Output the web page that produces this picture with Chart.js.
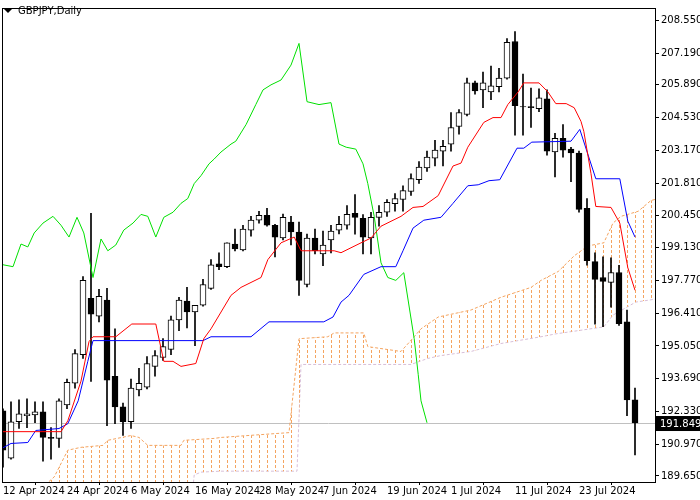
<!DOCTYPE html>
<html><head><meta charset="utf-8">
<script src="https://cdn.jsdelivr.net/npm/chart.js@4"></script>
<style>html,body{margin:0;padding:0;background:#fff}canvas{display:block}</style>
</head><body><canvas id="c" width="700" height="500"></canvas>
<script>
const title = "GBPJPY,Daily";
const dateLabels = ["12 Apr 2024","24 Apr 2024","6 May 2024","16 May 2024","28 May 2024","7 Jun 2024","19 Jun 2024","1 Jul 2024","11 Jul 2024","23 Jul 2024"];
const dateLabelIdx = [0,8,16,24,32,40,48,56,64,72];
const yTicks = [208.550,207.190,205.890,204.530,203.170,201.810,200.450,199.130,197.770,196.410,195.050,193.690,192.330,190.970,189.650];
const lastPrice = 191.849;

const opens  = [192.36,190.39,191.90,192.15,192.19,192.31,191.25,191.21,192.60,193.50,194.69,197.03,196.29,196.95,193.79,192.52,191.90,193.22,193.34,194.20,194.57,194.90,196.13,196.91,196.46,196.74,197.44,198.46,198.34,199.28,199.04,199.86,200.27,200.47,200.06,199.53,200.19,199.78,197.60,199.53,198.87,199.45,199.86,200.06,200.55,200.35,199.53,200.39,200.60,200.96,201.13,201.46,201.95,202.44,202.85,203.14,203.43,204.16,204.66,205.97,205.68,205.60,205.81,206.17,207.69,204.99,204.99,204.90,205.31,203.10,203.67,203.22,203.06,200.76,198.55,197.89,197.69,198.10,196.05,192.81];
const highs  = [192.44,192.73,192.81,192.85,192.73,192.73,191.66,192.85,193.67,194.90,197.93,200.56,197.40,197.44,195.76,192.68,193.67,194.12,194.61,194.86,195.35,196.29,197.07,197.48,196.74,197.81,198.63,198.92,199.33,199.90,200.06,200.43,200.64,200.76,200.10,200.52,200.43,200.19,199.69,199.90,199.82,200.06,200.43,200.88,201.33,200.50,200.60,200.88,201.13,201.37,201.70,202.20,202.70,203.14,203.59,203.59,204.74,204.86,206.17,206.05,206.42,206.67,206.58,207.81,208.10,206.34,205.76,205.72,205.68,203.88,204.24,203.30,203.14,201.17,198.92,198.75,198.71,198.40,196.54,193.30];
const lows   = [190.02,190.35,191.62,191.66,191.86,190.27,190.35,190.84,192.44,193.30,194.53,193.58,196.05,191.74,191.82,191.33,191.62,192.97,193.26,193.79,194.45,194.69,195.68,195.80,195.06,196.70,197.40,198.22,198.30,198.99,198.99,199.61,200.15,200.02,198.75,199.45,199.24,197.15,197.50,198.87,198.38,198.91,199.70,199.90,199.69,198.87,198.87,200.02,200.43,200.64,200.64,201.30,201.80,202.30,202.52,202.52,203.14,203.84,204.60,205.50,204.94,205.27,205.60,206.13,203.80,203.80,204.12,204.78,202.97,202.07,202.89,201.87,200.60,198.40,195.95,195.85,196.66,195.90,192.15,190.52];
const closes = [190.72,191.90,192.23,192.23,192.31,191.25,191.21,192.77,193.54,194.73,197.77,196.37,197.11,193.63,192.52,191.90,193.30,193.50,194.32,194.65,195.02,196.13,196.95,196.46,196.74,197.60,198.42,198.34,199.33,199.08,199.90,200.27,200.47,200.06,199.57,200.39,199.78,197.77,199.53,199.00,199.24,199.82,200.10,200.51,200.39,199.57,200.39,200.60,201.01,201.17,201.50,202.00,202.48,202.89,203.18,203.34,204.12,204.74,205.97,205.64,205.97,205.85,206.17,207.65,205.02,204.97,204.94,205.35,203.14,203.67,203.18,203.06,200.72,198.59,197.81,197.73,198.10,195.97,192.81,191.85];

const tenkanX = [-0.125,7.25,8.1,9.75,10.75,11.25,14.1,16.1,19.1,20.1,21.25,22.25,24.1,25.1,26,28.5,29.75,32.25,33.1,34.75,36.4,37.25,41.4,42.25,44.75,46,47.25,49.75,51.25,52.5,54.4,56.25,57.25,58.1,60.1,61.25,62.25,63.1,64.4,65.1,67,68.1,69.1,70.4,71.4,72.25,72.6,73.5,74.1,76,77.1,78.1,79];
const tenkanY = [191.49,191.49,191.94,193.59,195.23,195.43,195.43,195.96,195.96,194.41,194.41,194.20,194.32,195.35,195.76,197.15,197.48,197.89,198.63,199.33,199.57,199.00,199.00,198.92,199.33,199.53,200.02,200.43,200.80,200.84,201.29,202.52,202.64,203.30,204.33,204.53,204.53,205.07,205.60,205.97,205.97,205.60,205.11,205.11,204.94,204.37,203.96,202.20,200.84,200.80,200.15,198.30,197.36];
const kijunX = [-0.125,1,3.1,4.1,7,8.1,9.4,10.6,11.25,25,26,31,33.25,40.1,41.25,42.25,43.25,45.1,47.25,49.1,50,51.25,52.6,54.75,56.25,58.1,59.4,60.75,62.1,64.25,65.1,66.1,71,72.1,74.1,77.1,78.1,79];
const kijunY = [190.80,191.00,191.04,191.54,191.62,191.82,192.77,194.41,195.27,195.27,195.43,195.43,196.05,196.05,196.25,196.87,197.15,198.02,198.34,198.34,199.00,199.94,200.27,200.39,200.97,201.70,201.74,201.91,201.95,203.26,203.26,203.51,203.55,204.04,201.99,201.99,200.23,199.57];
const chikouX = [0,1.25,2.25,3.1,3.9,5,6.25,7.25,8.25,9.25,10.1,11.25,12.25,13.1,14.1,15.1,16.25,17.25,18.1,19.1,20.1,21.25,22.25,23.1,23.9,24.75,25.75,26.4,27.25,28.5,29.1,30.4,31.6,32.5,33.5,34.75,36,37,38,39.5,41,42,42.9,44.1,45,45.6,46.4,47.25,48.1,49.1,50.1,51.4,51.9,52.25,53];
const chikouY = [198.42,198.34,199.28,199.16,199.74,200.15,200.43,200.06,199.57,200.39,199.74,197.89,199.49,199.00,199.24,199.86,200.15,200.51,200.43,199.57,200.39,200.60,200.97,201.17,201.79,202.12,202.61,202.81,203.10,203.43,203.55,204.25,205.07,205.68,205.89,206.09,206.71,207.61,205.19,205.07,205.15,203.43,203.30,203.22,202.61,201.79,200.43,198.50,197.89,197.77,198.09,195.35,193.87,192.77,191.86];
const spanAX = [-0.125,5,6.4,8.1,9.75,12.5,13.1,16,17,18.1,22.25,22.6,26.4,27.25,35.75,37,40.6,41.4,45.1,45.6,49.75,51.4,52.25,54.4,58.5,62.25,66,67.25,69.4,71.4,73.1,75.1,76.25,77.25,79.4,81,81.5];
const spanAY = [188.80,189.20,189.61,190.72,190.84,190.92,191.13,191.33,191.25,190.92,190.92,191.13,191.21,191.25,191.45,195.35,195.43,195.59,195.59,195.02,194.82,195.43,195.76,196.25,196.54,197.07,197.48,197.77,198.14,198.79,199.20,199.33,200.15,200.43,200.64,201.09,201.13];
const spanBX = [-0.125,23.5,23.9,24.75,27.25,36.75,37.25,51,53.1,54.75,58.5,62.25,67.25,69.1,75.1,76.25,79.1,81.5];
const spanBY = [188.30,188.30,189.69,189.81,189.85,189.85,194.28,194.28,194.53,194.65,194.82,195.15,195.43,195.55,195.84,196.33,196.87,196.99];

const pts = (xs, ys) => xs.map((x, k) => ({x, y: ys[k]}));
const idx = opens.map((_, i) => i);

const pc = document.createElement('canvas'); pc.width = 8; pc.height = 10;
const px = pc.getContext('2d');
px.fillStyle = '#f4a460'; px.fillRect(3, 0, 1, 3); px.fillRect(3, 5, 1, 3);
const hatch = px.createPattern(pc, 'repeat');

const overlay = {
  id: 'overlay',
  beforeDatasetsDraw(ch) {
    const y = ch.scales.y, a = ch.chartArea, c = ch.ctx;
    const yy = Math.round(y.getPixelForValue(lastPrice)) + 0.5;
    c.save(); c.strokeStyle = '#c0c0c0'; c.lineWidth = 1;
    c.beginPath(); c.moveTo(a.left, yy); c.lineTo(a.right, yy); c.stroke(); c.restore();
  },
  afterDraw(ch) {
    const y = ch.scales.y, a = ch.chartArea, c = ch.ctx;
    const yy = y.getPixelForValue(lastPrice);
    c.save();
    c.strokeStyle = '#000'; c.lineWidth = 1;
    c.strokeRect(a.left + 0.5, a.top + 0.5, a.right - a.left, a.bottom - a.top);
    c.fillStyle = '#000'; c.fillRect(a.right + 1, yy - 7, 700 - a.right - 1, 15);
    c.fillStyle = '#fff'; c.font = '10px "DejaVu Sans"'; c.textBaseline = 'middle';
    c.fillText(lastPrice.toFixed(3), a.right + 5, yy + 1);
    c.fillStyle = '#000';
    c.beginPath(); c.moveTo(4, 9); c.lineTo(12, 9); c.lineTo(8, 13); c.closePath(); c.fill();
    c.font = '10px "DejaVu Sans"'; c.fillText(title, 18, 11);
    c.restore();
  }
};

new Chart(document.getElementById('c'), {
  data: {
    datasets: [
      {type: 'line', data: pts(tenkanX, tenkanY), borderColor: '#ff0000', borderWidth: 1, pointRadius: 0, order: 0},
      {type: 'line', data: pts(kijunX, kijunY), borderColor: '#0000ff', borderWidth: 1, pointRadius: 0, order: 0},
      {type: 'line', data: pts(chikouX, chikouY), borderColor: '#00e000', borderWidth: 1, pointRadius: 0, order: 0},
      {type: 'line', data: pts(spanAX, spanAY), borderColor: '#f4a460', borderDash: [3, 2], borderWidth: 1, pointRadius: 0, fill: {target: 4}, backgroundColor: hatch, order: 5},
      {type: 'line', data: pts(spanBX, spanBY), borderColor: '#d8bfd8', borderDash: [3, 2], borderWidth: 1, pointRadius: 0, order: 5},
      {type: 'bar', data: idx.map(i => ({x: i, y: [lows[i], highs[i]]})), backgroundColor: '#000', barThickness: 1, grouped: false, order: 3},
      {type: 'bar', data: idx.map(i => ({x: i, y: [opens[i], closes[i]]})),
       backgroundColor: idx.map(i => closes[i] >= opens[i] ? '#fff' : '#000'),
       borderColor: '#000', borderWidth: 1, borderSkipped: false, barThickness: 6, grouped: false, order: 2}
    ]
  },
  options: {
    responsive: false, animation: false, maintainAspectRatio: false,
    devicePixelRatio: 1,
    layout: {padding: {left: 2, top: 2, right: 0, bottom: 0}},
    plugins: {legend: {display: false}, tooltip: {enabled: false}},
    scales: {
      x: {type: 'linear', min: -0.125, max: 81.5, offset: false,
        afterBuildTicks: s => { s.ticks = dateLabelIdx.map(v => ({value: v})); },
        afterFit: s => { s.height = 18; },
        grid: {drawOnChartArea: false, tickLength: 3, color: '#000'},
        border: {color: '#000'},
        ticks: {align: 'start', padding: 0, maxRotation: 0, autoSkip: false, color: '#000',
          font: {family: 'DejaVu Sans', size: 10},
          callback: v => dateLabels[dateLabelIdx.indexOf(v)] ?? ''}},
      y: {type: 'linear', position: 'right', min: 189.40, max: 209.08,
        afterBuildTicks: s => { s.ticks = yTicks.map(v => ({value: v})); },
        afterFit: s => { s.width = 45; },
        grid: {drawOnChartArea: false, tickLength: 4, color: '#000'},
        border: {color: '#000'},
        ticks: {padding: 2, color: '#000', font: {family: 'DejaVu Sans', size: 10},
          callback: v => Number(v).toFixed(3)}}
    }
  },
  plugins: [overlay]
});
</script>
</body></html>
